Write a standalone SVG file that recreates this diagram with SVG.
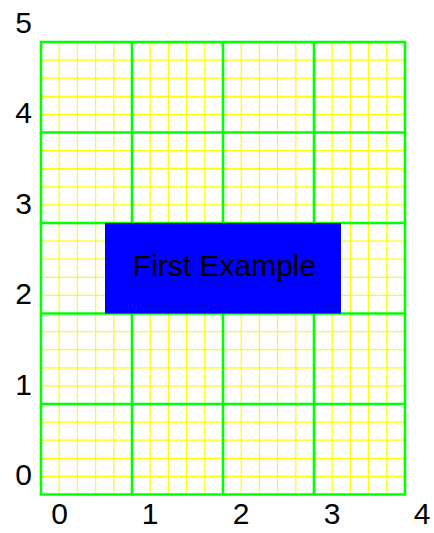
<svg xmlns="http://www.w3.org/2000/svg" width="434" height="533" viewBox="0 0 434 533">
<style>
.minor{stroke:#ffff00;stroke-width:1.2;fill:none}
.major{stroke:#00ff00;stroke-width:2.6;fill:none;stroke-linecap:square}
.lbl{font-family:"Liberation Sans",Arial,sans-serif;font-size:30px;fill:#000;text-anchor:middle}
.node-text{font-family:"Liberation Sans",Arial,sans-serif;font-size:30px;fill:#000;text-anchor:middle}
</style>
<rect width="434" height="533" fill="#fff"/>
<g id="grid">
<path class="minor" d="M59.2 42V494.5M77.4 42V494.5M95.6 42V494.5M113.8 42V494.5M150.2 42V494.5M168.4 42V494.5M186.6 42V494.5M204.8 42V494.5M241.2 42V494.5M259.4 42V494.5M277.6 42V494.5M295.8 42V494.5M332.2 42V494.5M350.4 42V494.5M368.6 42V494.5M386.8 42V494.5"/>
<path class="minor" d="M41 476.4H405M41 458.3H405M41 440.2H405M41 422.1H405M41 385.9H405M41 367.8H405M41 349.7H405M41 331.6H405M41 295.4H405M41 277.3H405M41 259.2H405M41 241.1H405M41 204.9H405M41 186.8H405M41 168.7H405M41 150.6H405M41 114.4H405M41 96.3H405M41 78.2H405M41 60.1H405"/>
<path class="major" d="M41 42V494.5M132 42V494.5M223 42V494.5M314 42V494.5M405 42V494.5M41 494.5H405M41 404H405M41 313.5H405M41 223H405M41 132.5H405M41 42H405"/>
</g>
<g id="axis-labels">
<text class="lbl" x="23.5" y="485">0</text>
<text class="lbl" x="23.5" y="394.5">1</text>
<text class="lbl" x="23.5" y="304">2</text>
<text class="lbl" x="23.5" y="213.5">3</text>
<text class="lbl" x="23.5" y="123">4</text>
<text class="lbl" x="23.5" y="32.5">5</text>
<text class="lbl" x="59.5" y="524">0</text>
<text class="lbl" x="150" y="524">1</text>
<text class="lbl" x="241" y="524">2</text>
<text class="lbl" x="332" y="524">3</text>
<text class="lbl" x="422" y="524">4</text>
</g>
<g id="first-example">
<rect x="105" y="223" width="236" height="90.5" fill="#0000ff"/>
<text class="node-text" x="224.5" y="276">First Example</text>
</g>
<g id="connectors"/>
</svg>
